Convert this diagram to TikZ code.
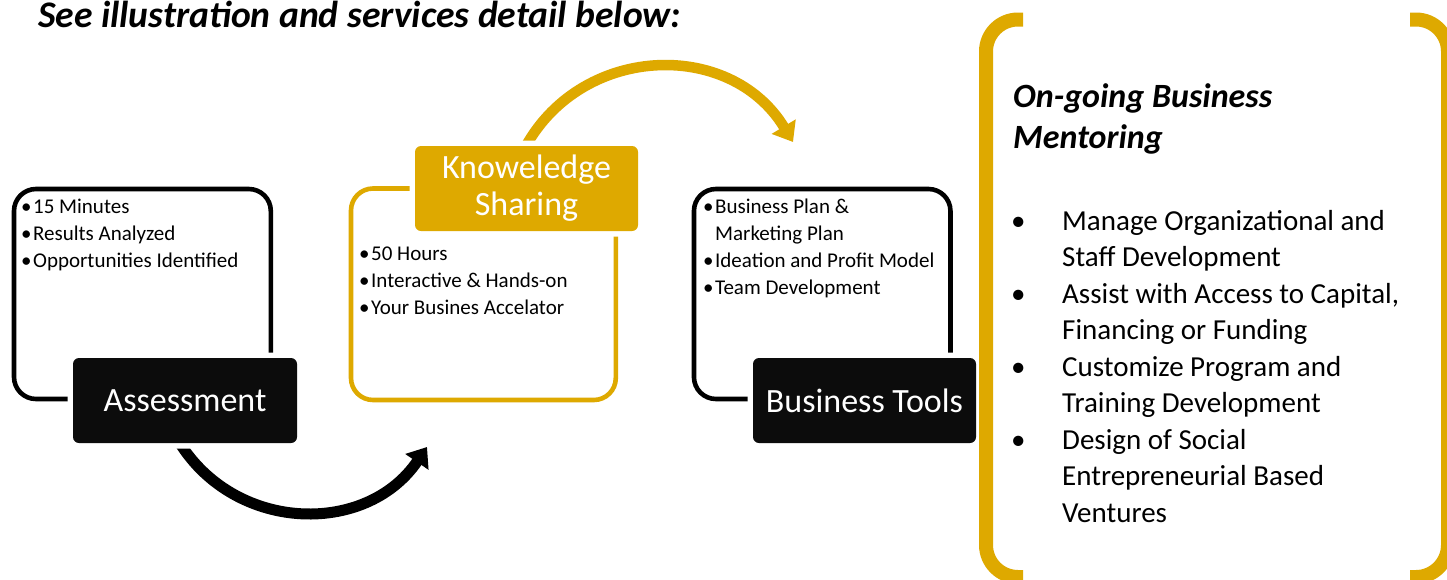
\documentclass[tikz,border=0pt]{standalone}
\usepackage{fontspec}
\setmainfont{Carlito}
\usetikzlibrary{arrows.meta}
\definecolor{gold}{RGB}{222,169,0}
\definecolor{boxblack}{RGB}{12,12,12}
\begin{document}
\begin{tikzpicture}[x=1pt,y=-1pt,
  outlinebox/.style={rectangle, rounded corners=22pt, line width=4.6pt, inner sep=0pt},
  labelbox/.style={rectangle, rounded corners=6pt, text=white, inner sep=0pt,
    font=\fontsize{34}{37}\selectfont, align=center,
    preaction={draw=white, line width=11pt}},
  bullettext/.style={anchor=base west, inner sep=0pt, font=\fontsize{21}{27}\selectfont},
  blackarc/.style={draw=black, line width=11pt, -{Triangle[length=18pt,width=27pt]}},
  goldarc/.style={draw=gold, line width=10.5pt, -{Triangle[length=18pt,width=27pt]}},
  bracket/.style={draw=gold, line width=14pt, rounded corners=32pt}]
\useasboundingbox (0,0) rectangle (1447,579);
\fill[white] (0,0) rectangle (1447,579);

% title
\node[anchor=base west, inner sep=0pt, font=\bfseries\itshape\fontsize{37.6}{44}\selectfont] (title) at (38,27) {See illustration and services detail below:};

% arrows
\coordinate (ka) at (176.8,438);
\coordinate (kb) at (427,447);
\draw[blackarc] (ka) .. controls (231.4,532.6) and (365.6,537.3) .. (kb);
\coordinate (ga) at (522.9,151.6);
\coordinate (gb) at (793,142);
\draw[goldarc] (ga) .. controls (578.1,43.3) and (730.1,38.1) .. (gb);

% outline boxes
\node[outlinebox, draw=black, minimum width=256.8pt, minimum height=210pt] (box1) at (142.4,294) {};
\node[outlinebox, draw=gold, minimum width=264.8pt, minimum height=211.5pt] (box2) at (483.4,294.25) {};
\node[outlinebox, draw=black, minimum width=256.5pt, minimum height=210pt] (box3) at (822.2,294) {};

% label boxes
\node[labelbox, fill=boxblack, minimum width=224pt, minimum height=85pt] (assess) at (185,400.5) {Assessment};
\node[labelbox, fill=gold, minimum width=223pt, minimum height=85pt] (know) at (526.5,188.5) {Knoweledge\\Sharing};
\node[labelbox, fill=boxblack, minimum width=223pt, minimum height=85pt] (tools) at (864.5,400.5) {Business Tools};

% bullet lists
\node[bullettext] (list1) at (21,213) {\begin{tabular}[t]{@{}l@{\hspace{1.5pt}}l@{}}•&15 Minutes\\•&Results Analyzed\\•&Opportunities Identified\end{tabular}};
\node[bullettext] (list2) at (359,260) {\begin{tabular}[t]{@{}l@{\hspace{1.5pt}}l@{}}•&50 Hours\\•&Interactive \& Hands-on\\•&Your Busines Accelator\end{tabular}};
\node[bullettext] (list3) at (703,213) {\begin{tabular}[t]{@{}l@{\hspace{1.5pt}}l@{}}•&Business Plan \&\\&Marketing Plan\\•&Ideation and Profit Model\\•&Team Development\end{tabular}};

% right panel
\draw[bracket] (1023,19.5) -- (986,19.5) -- (986,577) -- (1023,577);
\draw[bracket] (1410,19.5) -- (1448,19.5) -- (1448,577) -- (1410,577);
\node[anchor=base west, inner sep=0pt, font=\bfseries\itshape\fontsize{34}{41}\selectfont] (mhead) at (1013,107) {\begin{tabular}[t]{@{}l@{}}On-going Business\\Mentoring\end{tabular}};
\node[anchor=base west, inner sep=0pt, font=\fontsize{29}{36.5}\selectfont] (mlist) at (1011,230) {\begin{tabular}[t]{@{}p{51pt}@{}l@{}}•&Manage Organizational and\\&Staff Development\\•&Assist with Access to Capital,\\&Financing or Funding\\•&Customize Program and\\&Training Development\\•&Design of Social\\&Entrepreneurial Based\\&Ventures\end{tabular}};
\end{tikzpicture}
\end{document}
